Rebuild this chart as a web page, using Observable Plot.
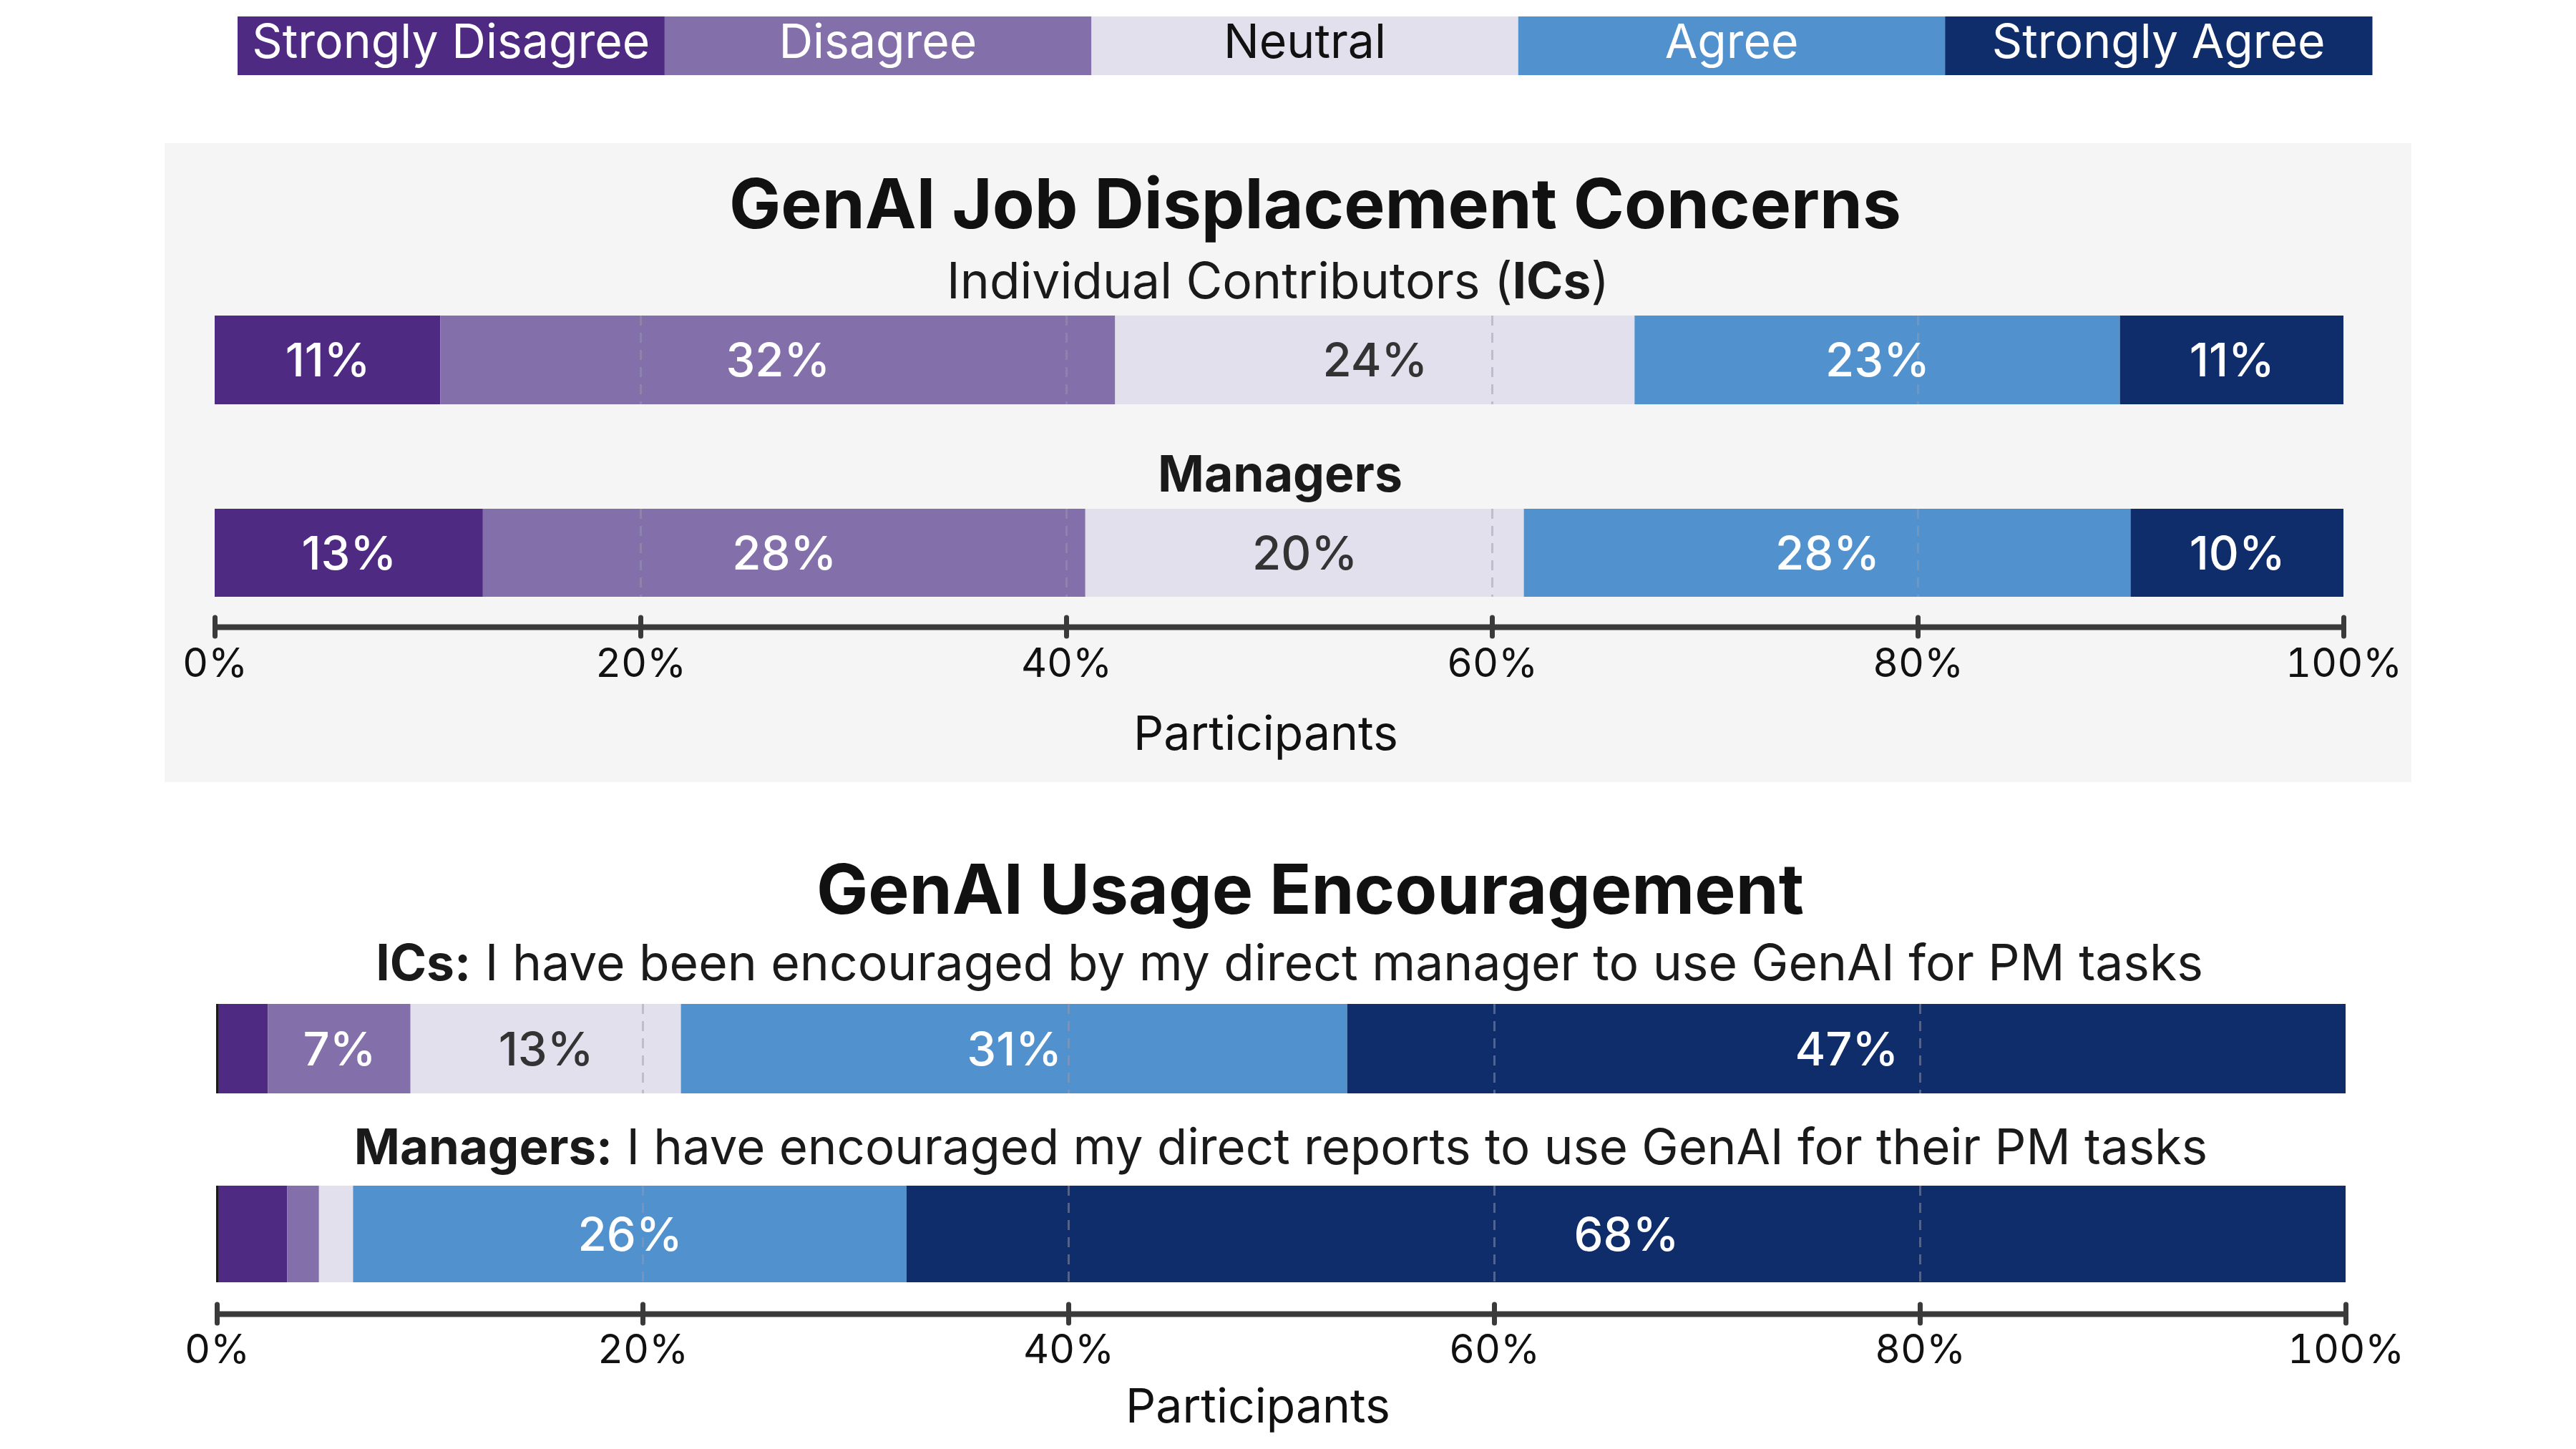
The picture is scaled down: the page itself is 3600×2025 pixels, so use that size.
<!DOCTYPE html>
<html><head><meta charset="utf-8">
<script src="https://cdn.jsdelivr.net/npm/d3@7"></script>
<script src="https://cdn.jsdelivr.net/npm/@observablehq/plot@0.6"></script>
<style>
html,body{margin:0;padding:0;background:#fff;}
#root{position:relative;width:3600px;height:2025px;overflow:hidden;}
.abs{position:absolute;left:0;}
</style></head><body><div id="root"></div>
<script>
// ---------- data ----------
const levels = ["Strongly Disagree", "Disagree", "Neutral", "Agree", "Strongly Agree"];
const levelColors = ["#4f2a83", "#836fa9", "#e3e0ee", "#5191cd", "#0f2d6b"];
const legendTextColors = ["#ffffff", "#ffffff", "#111111", "#ffffff", "#ffffff"];
const tickValues = [0, 20, 40, 60, 80, 100];
const gridValues = [20, 40, 60, 80];

const jobICs = [10.6, 31.7, 24.4, 22.8, 10.5];
const jobICsLabels = ["11%", "32%", "24%", "23%", "11%"];
const jobMgrs = [12.6, 28.3, 20.6, 28.5, 10.0];
const jobMgrsLabels = ["13%", "28%", "20%", "28%", "10%"];
const useICs = [2.4, 6.7, 12.7, 31.3, 46.9];
const useICsLabels = ["", "7%", "13%", "31%", "47%"];
const useMgrs = [3.3, 1.5, 1.6, 26.0, 67.6];
const useMgrsLabels = ["", "", "", "26%", "68%"];

const title1 = "GenAI Job Displacement Concerns";
const sub1 = [{t: "Individual Contributors (", w: 400}, {t: "ICs", w: 700}, {t: ")", w: 400}];
const sub1b = [{t: "Managers", w: 700}];
const title2 = "GenAI Usage Encouragement";
const sub2 = [{t: "ICs:", w: 700}, {t: " I have been encouraged by my direct manager to use GenAI for PM tasks", w: 400}];
const sub3 = [{t: "Managers:", w: 700}, {t: " I have encouraged my direct reports to use GenAI for their PM tasks", w: 400}];
const xLabel = "Participants";

// ---------- helpers ----------
const FONT = "Inter, 'Open Sans', sans-serif";
const ctx = document.createElement("canvas").getContext("2d");
function textWidth(parts, size) {
  let w = 0;
  for (const p of parts) { ctx.font = `${p.w || 400} ${size}px Inter, 'Open Sans', sans-serif`; w += ctx.measureText(p.t).width; }
  return w;
}
function fit(parts, target) { return 100 * target / textWidth(parts, 100); }

const barFont = fit([{t: "32%", w: 500}], 146);
const tickFont = fit([{t: "20%", w: 400}], 124);

const root = d3.select("#root");

// grey panel behind the first chart
root.append("div").attr("class", "abs")
  .style("left", "230px").style("top", "200px").style("width", "3140px").style("height", "893px")
  .style("background", "#f5f5f5");

function rows(values, labels) {
  return levels.map((level, i) => ({level, value: values[i], label: labels[i]}));
}

function place(node, top) {
  root.append("div").attr("class", "abs").style("top", top + "px").node().appendChild(node);
}

function barPlot(values, labels, {height, ml, mr, edge}) {
  const data = rows(values, labels);
  return Plot.plot({
    width: 3600, height,
    marginTop: 0, marginBottom: 0, marginLeft: ml, marginRight: mr,
    style: {background: "transparent", fontFamily: FONT, overflow: "visible"},
    x: {domain: [0, 100], axis: null},
    color: {domain: levels, range: levelColors},
    marks: [
      Plot.barX(data, {x: "value", fill: "level"}),
      Plot.ruleX(gridValues, {stroke: "#9a9aae", strokeOpacity: 0.5, strokeWidth: 3, strokeDasharray: "14,10"}),
      edge ? Plot.ruleX([0], {stroke: "#1a1a1a", strokeWidth: 3}) : null,
      Plot.text(data, Plot.stackX({x: "value", text: d => d.level === "Neutral" ? "" : d.label,
        fill: "#ffffff", fontSize: barFont, fontWeight: 500, dy: 2})),
      Plot.text(data, Plot.stackX({x: "value", text: d => d.level === "Neutral" ? d.label : "",
        fill: "#333333", fontSize: barFont, fontWeight: 500, dy: 2}))
    ]
  });
}

function axisPlot({height, ml, mr, tickPadding}) {
  return Plot.plot({
    width: 3600, height,
    marginTop: 0, marginBottom: height - 26, marginLeft: ml, marginRight: mr,
    style: {background: "transparent", fontFamily: FONT, fontSize: tickFont + "px", color: "#111", overflow: "visible"},
    x: {domain: [0, 100]},
    y: {domain: [0, 1], axis: null},
    marks: [
      Plot.ruleY([0.5], {x1: 0, x2: 100, stroke: "#3a3a3a", strokeWidth: 8}),
      Plot.ruleX(tickValues, {stroke: "#3a3a3a", strokeWidth: 7, strokeLinecap: "round"}),
      Plot.axisX(tickValues, {anchor: "bottom", tickSize: 0, tickPadding, tickFormat: d => d + "%",
        fontSize: tickFont, label: null})
    ]
  });
}

// ---------- chart 1 ----------
place(barPlot(jobICs, jobICsLabels, {height: 124, ml: 300, mr: 325}), 441);
place(barPlot(jobMgrs, jobMgrsLabels, {height: 123, ml: 300, mr: 325}), 711);
place(axisPlot({height: 200, ml: 300, mr: 325, tickPadding: 17}), 863);

// ---------- chart 2 ----------
place(barPlot(useICs, useICsLabels, {height: 125, ml: 303, mr: 322, edge: true}), 1403);
place(barPlot(useMgrs, useMgrsLabels, {height: 135, ml: 303, mr: 322, edge: true}), 1657);
place(axisPlot({height: 202, ml: 303, mr: 322, tickPadding: 16}), 1823);

// ---------- overlay: legend, titles, axis labels ----------
const ov = root.append("svg").attr("class", "abs").style("top", "0px")
  .attr("width", 3600).attr("height", 2025).style("pointer-events", "none");

const lgX0 = 332, lgX1 = 3315, lgY = 23, lgH = 82;
const cellW = (lgX1 - lgX0) / levels.length;
const legendFont = fit([{t: "Strongly Disagree", w: 400}], 556);
levels.forEach((lv, i) => {
  ov.append("rect").attr("x", lgX0 + i * cellW).attr("y", lgY).attr("width", cellW + 0.5).attr("height", lgH).attr("fill", levelColors[i]);
  ov.append("text").attr("x", lgX0 + (i + 0.5) * cellW).attr("y", 81).attr("text-anchor", "middle")
    .attr("font-family", FONT).attr("font-size", legendFont).attr("fill", legendTextColors[i]).text(lv);
});

function addText(parts, {cx, baseline, width, fill = "#111"}) {
  const fs = fit(parts, width);
  const t = ov.append("text").attr("x", cx).attr("y", baseline).attr("text-anchor", "middle")
    .attr("font-family", FONT).attr("font-size", fs).attr("fill", fill);
  for (const p of parts) t.append("tspan").attr("font-weight", p.w || 400).text(p.t);
}

addText([{t: title1, w: 700}], {cx: 1838, baseline: 319, width: 1638});
addText(sub1, {cx: 1786, baseline: 417, width: 926, fill: "#1a1a1a"});
addText(sub1b, {cx: 1789, baseline: 687, width: 342, fill: "#1a1a1a"});
addText([{t: xLabel, w: 400}], {cx: 1769, baseline: 1048, width: 370, fill: "#111"});
addText([{t: title2, w: 700}], {cx: 1831, baseline: 1277, width: 1380});
addText(sub2, {cx: 1802, baseline: 1370, width: 2554, fill: "#1a1a1a"});
addText(sub3, {cx: 1790, baseline: 1627, width: 2591, fill: "#1a1a1a"});
addText([{t: xLabel, w: 400}], {cx: 1758, baseline: 1988, width: 370, fill: "#111"});
</script>
</body></html>
